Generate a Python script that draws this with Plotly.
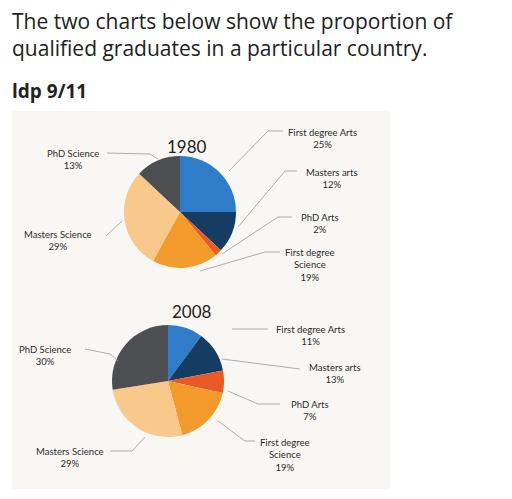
import plotly.graph_objs as go

W, H = 512, 499
# the page draws the figure a few pixels in from the window edge
OX, OY = 8, 9

categories = ["First degree Arts", "Masters arts", "PhD Arts",
              "First degree Science", "Masters Science", "PhD Science"]
values_1980 = [25, 12, 2, 19, 29, 13]
values_2008 = [11, 13, 7, 19, 29, 30]
colors = ["#2f7cc8", "#153d63", "#e95a26", "#f29a2c", "#f8c98a", "#4d4e51"]

label_text = {
    "First degree Arts": "First degree Arts",
    "Masters arts": "Masters arts",
    "PhD Arts": "PhD Arts",
    "First degree Science": "First degree<br>Science",
    "Masters Science": "Masters Science",
    "PhD Science": "PhD Science",
}


def px(x):
    return (x - OX) / W


def py(y):
    return 1 - (y - OY) / H


def pie_domain(cx, cy, r):
    return dict(x=[px(cx - r), px(cx + r)], y=[py(cy + r), py(cy - r)])


fig = go.Figure()
for vals, (cx, cy) in [(values_1980, (180, 213)), (values_2008, (168, 382))]:
    fig.add_trace(go.Pie(labels=categories, values=vals, sort=False, direction="clockwise",
                         rotation=0, marker=dict(colors=colors), textinfo="none",
                         domain=pie_domain(cx, cy, 56), showlegend=False, hoverinfo="label+value"))

# label positions (pixel) and leader lines for each chart
label_pos_1980 = [(322, 126), (332, 166), (320, 211), (310, 246), (58, 228), (73, 147)]
leaders_1980 = [[(229, 172), (268, 132), (283, 132)], [(238, 228), (285, 172), (297, 172)],
                [(222, 255), (278, 218), (292, 218)], [(200, 272), (265, 253), (280, 253)],
                [(106, 237), (122, 222)], [(107, 154), (150, 155), (158, 160)]]
label_pos_2008 = [(310, 323), (335, 361), (310, 398), (285, 436), (70, 445), (45, 343)]
leaders_2008 = [[(232, 330), (268, 330)], [(222, 360), (300, 370)],
                [(228, 392), (258, 405), (280, 405)], [(218, 422), (245, 442), (255, 442)],
                [(145, 438), (132, 452), (110, 452)], [(85, 350), (110, 355), (118, 362)]]

shapes = [dict(type="rect", xref="paper", yref="paper", x0=px(12), x1=px(390),
               y0=py(490), y1=py(112), fillcolor="#f8f7f3", line=dict(width=0), layer="below")]
annotations = []
for vals, pos, leaders in [(values_1980, label_pos_1980, leaders_1980),
                           (values_2008, label_pos_2008, leaders_2008)]:
    for cat, v, (x, y), pts in zip(categories, vals, pos, leaders):
        annotations.append(dict(x=px(x), y=py(y), xref="paper", yref="paper", showarrow=False,
                                xanchor="center", yanchor="top", align="center",
                                text=f"{label_text[cat]}<br>{v}%",
                                font=dict(family="Lato", size=9.5, color="#2a2a2a")))
        path = "M " + " L ".join(f"{px(a)},{py(b)}" for a, b in pts)
        shapes.append(dict(type="path", xref="paper", yref="paper", path=path,
                           line=dict(color="#9a9a9a", width=0.8)))

annotations += [
    dict(x=px(187), y=py(135), text="1980", font=dict(family="Lato", size=17, color="#222")),
    dict(x=px(170), y=py(312), text="2008", font=dict(family="Lato", size=17, color="#222")),
]
for a in annotations[-2:]:
    a.update(xref="paper", yref="paper", showarrow=False)

annotations += [
    dict(x=px(10), y=py(6), xref="paper", yref="paper", showarrow=False, xanchor="left",
         yanchor="top", align="left",
         text="The two charts below show the proportion of<br>qualified graduates in a particular country.",
         font=dict(family="Open Sans", size=21, color="#222222")),
    dict(x=px(10), y=py(77), xref="paper", yref="paper", showarrow=False, xanchor="left",
         yanchor="top", text="<b>ldp 9/11</b>",
         font=dict(family="Open Sans", size=19, color="#222222")),
]

fig.update_layout(width=W, height=H, margin=dict(l=0, r=0, t=0, b=0),
                  paper_bgcolor="white", shapes=shapes, annotations=annotations)
fig.write_html("out.html")
